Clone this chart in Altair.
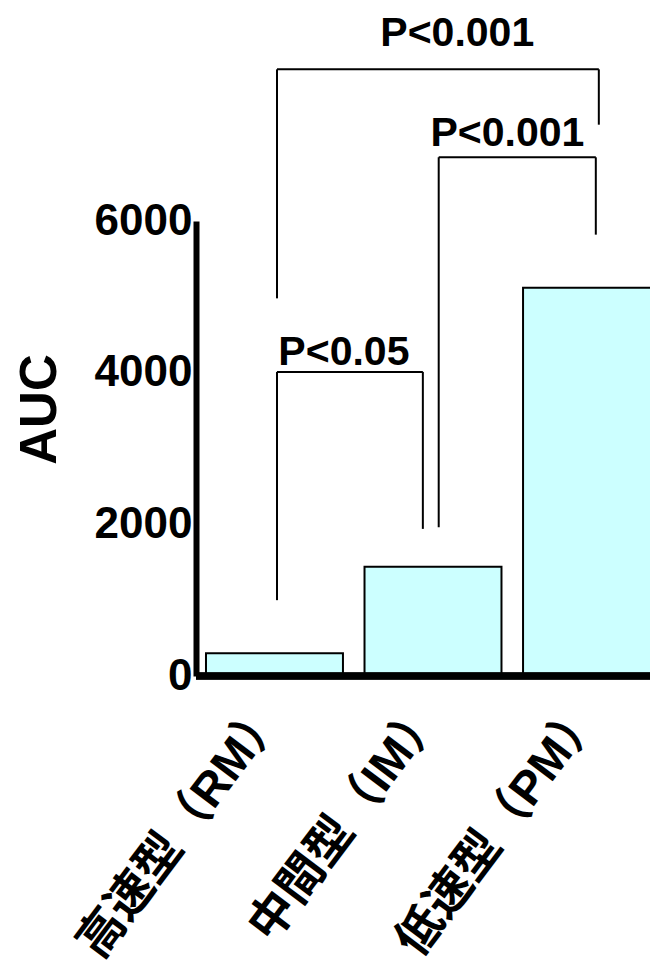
import altair as alt
import pandas as pd

# ---- data ----
categories = ["高速型（RM）", "中間型（IM）", "低速型（PM）"]
auc = [300, 1440, 5120]
y_ticks = [0, 2000, 4000, 6000]

# significance brackets (x in category-index units, y in AUC units)
bracket_labels = ["P<0.05", "P<0.001", "P<0.001"]
bracket_left = [0.016, 1.036, 0.016]
bracket_right = [0.936, 2.027, 2.046]
bracket_top = [4010, 6840, 8000]
bracket_left_end = [1000, 1960, 4980]
bracket_right_end = [1940, 5820, 7270]
label_x = [0.438, 1.469, 1.153]
label_y = [4100, 6990, 8310]

# ---- layout / style ----
W, H = 454, 455          # visible plot area (right bar runs off the edge)
RANGE_W = 474            # full band range; the part past the edge is cropped
PAD_INNER, PAD_OUTER = 0.136, 0.063
n = len(categories)
x_lo = -(PAD_OUTER + (1 - PAD_INNER) / 2)
x_hi = x_lo + n - PAD_INNER + 2 * PAD_OUTER
FONT = "Liberation Sans, Noto Sans CJK JP"

bars_df = pd.DataFrame({"cat": categories, "auc": auc})

segs = []
for xl, xr, yt, yl, yr in zip(bracket_left, bracket_right, bracket_top,
                              bracket_left_end, bracket_right_end):
    segs.append({"x": xl, "x2": xr, "y": yt, "y2": yt})
    segs.append({"x": xl, "x2": xl, "y": yl, "y2": yt})
    segs.append({"x": xr, "x2": xr, "y": yr, "y2": yt})
seg_df = pd.DataFrame(segs)
lab_df = pd.DataFrame({"x": label_x, "y": label_y, "t": bracket_labels})

yscale = alt.Scale(domain=[0, 6000], nice=False)
ann_x = alt.Scale(domain=[x_lo, x_hi], range=[0, RANGE_W], nice=False, zero=False)

bars = alt.Chart(bars_df).mark_bar(
    fill="#CCFFFF", stroke="black", strokeWidth=2
).encode(
    x=alt.X("cat:N", sort=categories,
            scale=alt.Scale(paddingInner=PAD_INNER, paddingOuter=PAD_OUTER,
                            range=[0, RANGE_W]),
            axis=alt.Axis(title=None, labelAngle=-53, labelAlign="right",
                          labelBaseline="middle", labelFont=FONT,
                          labelFontSize=47, labelFontWeight="bold",
                          labelColor="black", labelPadding=30, ticks=False,
                          domain=False, labelLimit=0)),
    y=alt.Y("auc:Q", scale=yscale,
            axis=alt.Axis(title="AUC", values=y_ticks, format="d",
                          grid=False, ticks=False, labelFont=FONT,
                          labelFontSize=44, labelFontWeight="bold",
                          labelColor="black", labelPadding=4,
                          domainColor="black", domainWidth=6, zindex=2,
                          titleFont=FONT, titleFontSize=51,
                          titleFontWeight="bold", titleColor="black",
                          titlePadding=28, titleY=188)),
)

baseline = alt.Chart(bars_df).mark_rule(color="black", strokeWidth=7).encode(
    y=alt.datum(0, scale=yscale)
)

rules = alt.Chart(seg_df).mark_rule(color="black", strokeWidth=2).encode(
    x=alt.X("x:Q", scale=ann_x, axis=None),
    x2="x2:Q",
    y=alt.Y("y:Q", scale=yscale),
    y2="y2:Q",
)

texts = alt.Chart(lab_df).mark_text(
    font=FONT, fontSize=41, fontWeight="bold", color="black",
    align="center", baseline="alphabetic"
).encode(
    x=alt.X("x:Q", scale=ann_x, axis=None),
    y=alt.Y("y:Q", scale=yscale),
    text="t:N",
)

chart = alt.layer(bars, baseline, rules, texts).resolve_scale(x="independent").properties(
    width=W, height=H,
    autosize=alt.AutoSizeParams(type="none"),
    padding={"left": 188, "top": 213, "right": 0, "bottom": 294},
).configure_view(stroke=None)

chart.save("out.html", embed_options={"renderer": "svg", "actions": False})
